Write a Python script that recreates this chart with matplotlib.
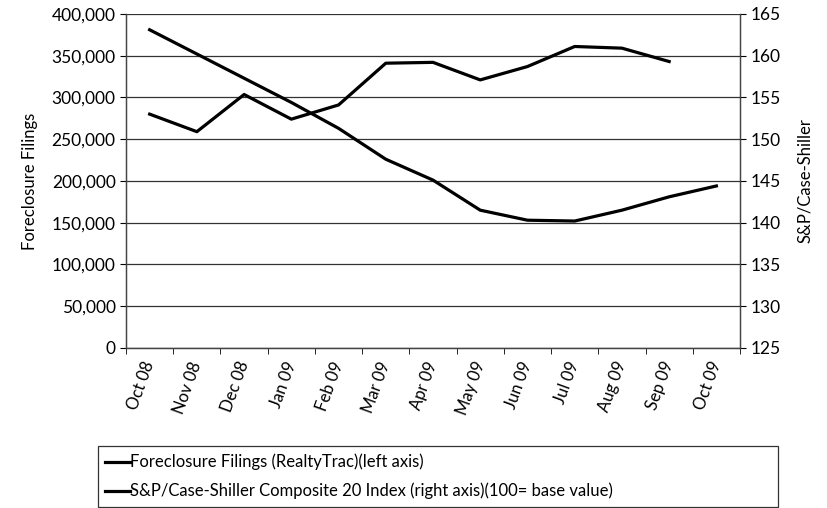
from matplotlib import pyplot as plt
from matplotlib.ticker import FuncFormatter

plt.rcParams['font.family'] = ['Lato', 'DejaVu Sans']

meses = ['Oct 08', 'Nov 08', 'Dec 08', 'Jan 09', 'Feb 09', 'Mar 09', 'Apr 09',
         'May 09', 'Jun 09', 'Jul 09', 'Aug 09', 'Sep 09', 'Oct 09']

# Foreclosure filings (no dato para Oct 09)
filings = [280000, 259000, 303500, 274000, 291000, 341000, 342000,
           321000, 337000, 361000, 359000, 343000]

# S&P/Case-Shiller Composite 20
cs_index = [163.1, 160.2, 157.3, 154.4, 151.3, 147.6, 145.1,
            141.5, 140.3, 140.2, 141.5, 143.1, 144.4]

fig = plt.figure(figsize=(8.27, 5.08), dpi=100)
ax = fig.add_axes([0.1524, 0.315, 0.7424, 0.6576])
ax2 = ax.twinx()

x = list(range(len(meses)))
l1, = ax.plot(x[:len(filings)], filings, color='black', lw=2.3,
              label='Foreclosure Filings (RealtyTrac)(left axis)')
l2, = ax2.plot(x, cs_index, color='black', lw=2.3,
               label='S&P/Case-Shiller Composite 20 Index (right axis)(100= base value)')

ax.set_xlim(-0.5, len(meses) - 0.5)
ax.set_ylim(0, 400000)
ax.set_yticks(range(0, 400001, 50000))
ax.yaxis.set_major_formatter(FuncFormatter(lambda v, p: '{:,.0f}'.format(v)))
ax2.set_ylim(125, 165)
ax2.set_yticks(range(125, 166, 5))

ax.grid(axis='y', color='#333333', lw=0.9)
ax.set_axisbelow(True)

ax.set_xticks(x)
ax.set_xticklabels(meses, rotation=70, ha='right', va='center',
                   rotation_mode='anchor', fontsize=12)
ax.set_xticks([i - 0.5 for i in range(len(meses) + 1)], minor=True)
ax.tick_params(axis='x', which='major', length=0, pad=10)
ax.tick_params(axis='x', which='minor', length=4, direction='out')
ax.tick_params(axis='y', labelsize=12.5, length=4)
ax2.tick_params(axis='y', labelsize=12.5, length=4)

for a in (ax, ax2):
    a.spines['top'].set_visible(False)
    for s in ('left', 'right', 'bottom'):
        a.spines[s].set_color('#444444')
        a.spines[s].set_linewidth(0.9)

ax.set_ylabel('Foreclosure Filings', fontsize=12, labelpad=10)
ax2.set_ylabel('S&P/Case-Shiller', fontsize=12, labelpad=12)

leg = fig.legend(handles=[l1, l2], loc='lower left',
                 bbox_to_anchor=(0.118, 0.002, 0.823, 0.118), mode='expand',
                 fontsize=12, handlelength=1.5, handletextpad=0.0,
                 borderaxespad=0, frameon=True, fancybox=False,
                 labelspacing=0.75, borderpad=0.45)
leg.get_frame().set_edgecolor('black')
leg.get_frame().set_linewidth(0.9)

fig.savefig('out.png', dpi=100)
